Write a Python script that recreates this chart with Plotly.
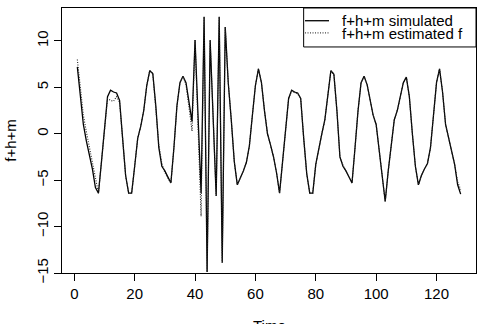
import plotly.graph_objects as go

time = list(range(1, 129))

simulated = [
    7.2, 4.0, 1.0, -0.8, -2.3, -3.8, -5.8, -6.4, -3.0, 0.8,
    4.0, 4.7, 4.5, 4.4, 3.6, -0.5, -4.5, -6.4, -6.4, -3.5,
    -0.5, 0.8, 2.5, 5.2, 6.8, 6.5, 3.0, -1.5, -3.5, -4.0,
    -4.7, -5.3, -1.5, 3.0, 5.5, 6.2, 5.5, 3.5, 1.3, 10.1,
    2.0, -6.4, 12.6, -14.9, 10.1, 1.7, -6.7, 12.6, -13.9, 11.5,
    5.5, 1.5, -3.0, -5.5, -4.8, -4.0, -3.1, -1.3, 2.0, 5.2,
    7.0, 5.5, 2.5, 0.0, -1.2, -2.5, -4.2, -6.4, -3.0, 0.5,
    3.8, 4.7, 4.5, 4.4, 3.8, -0.5, -4.3, -6.4, -6.4, -3.3,
    -1.5, 0.0, 1.5, 4.5, 6.8, 6.4, 2.5, -2.5, -3.5, -4.0,
    -4.6, -5.3, -1.5, 2.5, 5.5, 6.2, 5.3, 3.5, 2.0, 1.0,
    -2.0, -5.0, -7.3, -4.0, -1.0, 1.5, 2.5, 4.0, 5.5, 6.1,
    4.0, 0.0, -3.5, -5.5, -4.5, -3.8, -3.2, -1.5, 2.0, 5.5,
    7.0, 4.5, 1.0, -0.5, -1.8, -3.3, -5.5, -6.5,
]

estimated = [
    8.0, 5.0, 2.0, 0.2, -1.5, -3.0, -5.0, -6.4, -3.0, 0.8,
    3.8, 3.6, 3.5, 4.0, 3.4, -0.5, -4.5, -6.4, -6.4, -3.5,
    -0.5, 0.8, 2.5, 5.2, 6.8, 6.5, 3.0, -1.2, -3.2, -4.2,
    -4.8, -5.3, -1.5, 3.0, 5.5, 6.2, 5.3, 2.8, 0.3, 10.1,
    1.0, -8.9, 12.6, -14.9, 10.1, 1.7, -6.7, 12.6, -13.9, 11.5,
    5.5, 1.5, -3.0, -5.5, -4.8, -4.0, -3.1, -1.3, 2.0, 5.2,
    7.0, 5.5, 2.5, 0.0, -1.2, -2.5, -4.2, -6.4, -3.0, 0.5,
    3.8, 4.6, 4.4, 4.3, 3.8, -0.5, -4.3, -6.4, -6.4, -3.3,
    -1.5, 0.0, 1.5, 4.5, 6.8, 6.4, 2.5, -2.5, -3.4, -4.0,
    -4.6, -5.3, -1.5, 2.5, 5.5, 6.2, 5.3, 3.5, 2.0, 1.0,
    -2.0, -5.0, -7.3, -4.0, -1.0, 1.5, 2.5, 4.0, 5.5, 6.1,
    4.0, 0.0, -3.5, -5.5, -4.5, -3.8, -3.2, -1.5, 2.0, 5.5,
    7.0, 4.5, 1.0, -0.5, -1.8, -3.3, -5.2, -6.0,
]

x_ticks = [0, 20, 40, 60, 80, 100, 120]
y_ticks = [-15, -10, -5, 0, 5, 10]
legend_labels = ["f+h+m simulated", "f+h+m estimated f"]

FONT = "Liberation Sans, Arial, Helvetica, sans-serif"
DOT = "1px,1.5px"

fig = go.Figure()
fig.add_trace(go.Scatter(x=time, y=simulated, mode="lines",
                         line=dict(color="black", width=1.3),
                         name=legend_labels[0], showlegend=False))
fig.add_trace(go.Scatter(x=time, y=estimated, mode="lines",
                         line=dict(color="#222222", width=1.1, dash=DOT),
                         name=legend_labels[1], showlegend=False))

# Legend box drawn manually (R-style)
fig.add_shape(type="rect", xref="paper", yref="paper",
              x0=0.5837, x1=1.0, y0=0.853, y1=1.0,
              line=dict(color="black", width=1), fillcolor="white", layer="above")
fig.add_shape(type="line", xref="paper", yref="paper",
              x0=0.587, x1=0.645, y0=0.952, y1=0.952,
              line=dict(color="black", width=1.3), layer="above")
fig.add_shape(type="line", xref="paper", yref="paper",
              x0=0.587, x1=0.645, y0=0.906, y1=0.906,
              line=dict(color="#444444", width=1.1, dash=DOT), layer="above")
fig.add_annotation(xref="paper", yref="paper", x=0.671, y=0.952,
                   text=legend_labels[0], showarrow=False, xanchor="left",
                   yanchor="middle", font=dict(family=FONT, size=15, color="black"))
fig.add_annotation(xref="paper", yref="paper", x=0.671, y=0.904,
                   text=legend_labels[1], showarrow=False, xanchor="left",
                   yanchor="middle", font=dict(family=FONT, size=15, color="black"))

# Axis titles
fig.add_annotation(xref="paper", yref="paper", x=0.5, y=-0.16,
                   text="Time", showarrow=False, xanchor="center", yanchor="top",
                   font=dict(family=FONT, size=15, color="black"))
fig.add_annotation(xref="paper", yref="paper", x=-0.125, y=0.5,
                   text="f+h+m", showarrow=False, textangle=-90,
                   xanchor="center", yanchor="middle",
                   font=dict(family=FONT, size=15, color="black"))

fig.update_layout(
    width=482, height=324,
    margin=dict(l=62, r=6, t=8, b=51),
    paper_bgcolor="white", plot_bgcolor="white",
    font=dict(family=FONT, size=15, color="black"),
    showlegend=False,
)
fig.update_xaxes(range=[-4.08, 133.08], tickvals=x_ticks, ticks="outside",
                 ticklen=7, tickcolor="black", showline=True, linecolor="black",
                 linewidth=1, mirror=True, showgrid=False, zeroline=False,
                 tickfont=dict(size=15))
fig.update_yaxes(range=[-15.0, 13.55], tickvals=y_ticks, ticks="outside",
                 ticklen=7, tickcolor="black", showline=True, linecolor="black",
                 linewidth=1, mirror=True, showgrid=False, zeroline=False,
                 tickangle=-90, tickfont=dict(size=15))

fig.write_html("out.html")
